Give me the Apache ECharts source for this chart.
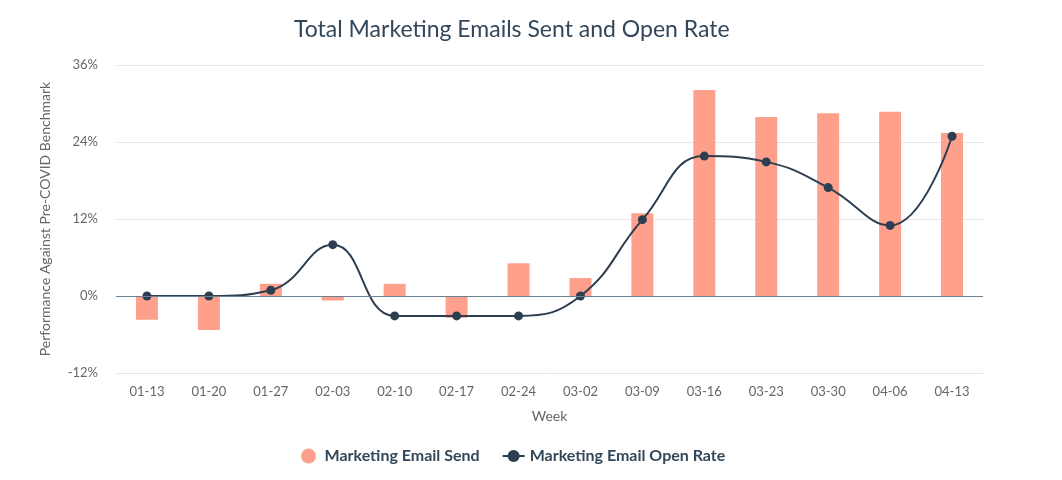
<!DOCTYPE html>
<html>
<head>
<meta charset="utf-8">
<script src="https://cdn.jsdelivr.net/npm/echarts@6/dist/echarts.min.js"></script>
<style>
  html, body { margin: 0; padding: 0; background: #fff; }
  #chart { width: 1062px; height: 480px; }
</style>
</head>
<body>
<div id="chart"></div>
<script>
var weeks = ['01-13', '01-20', '01-27', '02-03', '02-10', '02-17', '02-24', '03-02', '03-09', '03-16', '03-23', '03-30', '04-06', '04-13'];
var emailSend = [-3.7, -5.3, 1.9, -0.7, 1.9, -3.4, 5.1, 2.8, 12.9, 32.1, 27.9, 28.5, 28.7, 25.4];
var openRate = [0, 0, 0.9, 8.0, -3.1, -3.1, -3.1, 0, 11.9, 21.8, 20.9, 16.9, 11.0, 24.9];

var myChart = echarts.init(document.getElementById('chart'));

var option = {
    textStyle: { fontFamily: 'Lato' },
    title: {
        text: 'Total Marketing Emails Sent and Open Rate',
        left: 289,
        top: 13,
        textStyle: { fontSize: 23, fontWeight: 'normal', color: '#33475b', fontFamily: 'Lato' }
    },
    legend: {
        left: 296,
        bottom: 11,
        itemGap: 22,
        itemWidth: 22,
        itemHeight: 15,
        textStyle: { fontSize: 16, fontWeight: 'bold', color: '#33475b' },
        data: [
            { name: 'Marketing Email Send', icon: 'circle' },
            { name: 'Marketing Email Open Rate' }
        ]
    },
    grid: { left: 116, right: 79, top: 65, bottom: 107 },
    xAxis: {
        type: 'category',
        data: weeks,
        name: 'Week',
        nameLocation: 'middle',
        nameGap: 36,
        nameTextStyle: { fontSize: 14, color: '#666' },
        axisLine: { show: false, onZero: false },
        axisTick: { show: false },
        axisLabel: { color: '#666', fontSize: 13, margin: 12 }
    },
    yAxis: {
        type: 'value',
        min: -12,
        max: 36,
        interval: 12,
        name: 'Performance Against Pre-COVID Benchmark',
        nameLocation: 'middle',
        nameGap: 64,
        nameTextStyle: { fontSize: 14, color: '#666' },
        axisLabel: { formatter: '{value}%', color: '#666', fontSize: 13, margin: 18 },
        splitLine: { lineStyle: { color: '#e6e6e6' } }
    },
    series: [
        {
            name: 'Marketing Email Send',
            type: 'bar',
            data: emailSend,
            barWidth: 22,
            itemStyle: { color: '#fea08b' },
            markLine: {
                silent: true,
                symbol: 'none',
                label: { show: false },
                lineStyle: { color: '#6a8194', type: 'solid', width: 1.2 },
                data: [{ yAxis: 0 }]
            }
        },
        {
            name: 'Marketing Email Open Rate',
            type: 'line',
            data: openRate,
            smooth: 0.45,
            symbol: 'circle',
            symbolSize: 9,
            lineStyle: { color: '#2d3e50', width: 2 },
            itemStyle: { color: '#2d3e50' }
        }
    ]
};

myChart.setOption(option);
</script>
</body>
</html>
